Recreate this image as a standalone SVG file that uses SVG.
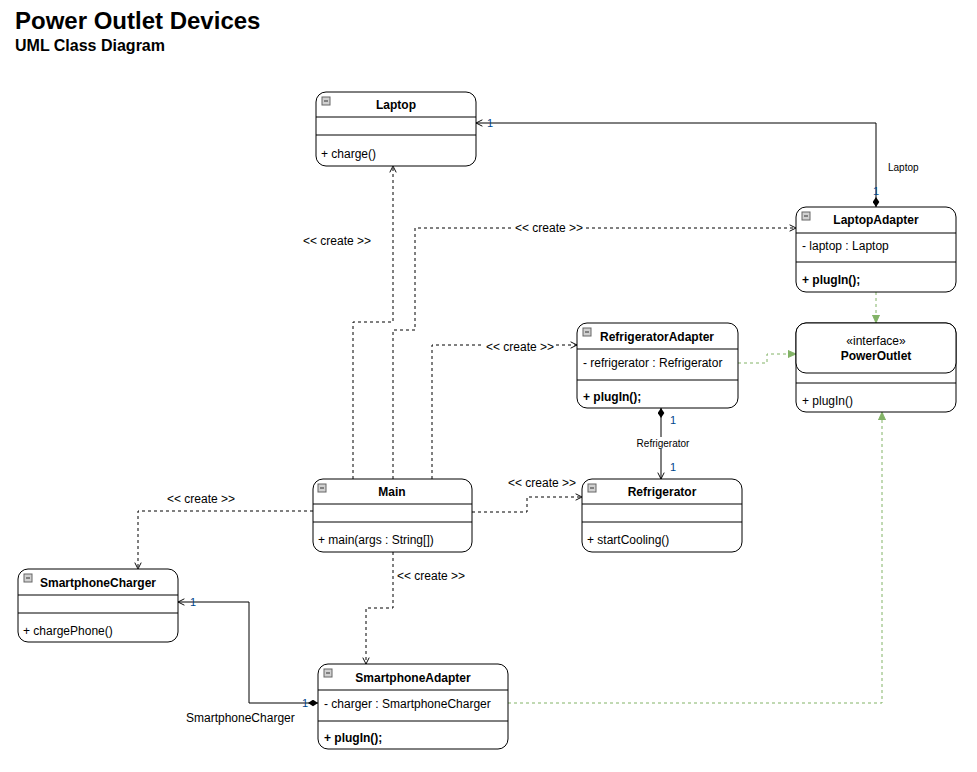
<svg xmlns="http://www.w3.org/2000/svg" width="977" height="772" viewBox="0 0 977 772">
<style>
text{font-family:"Liberation Sans",Arial,sans-serif;fill:#000}
.box{fill:#fff;stroke:#000;stroke-width:1}
.ln{stroke:#000;stroke-width:1}
.nm{font-size:12px;font-weight:bold;text-anchor:middle}
.at{font-size:12px}
.bd{font-size:12px;font-weight:bold}
.lb{font-size:12px}
.sm{font-size:10px}
.mu{font-size:11px;fill:#00468c}
.ic{fill:#d0d0d0;stroke:#666;stroke-width:1}
.dash{fill:none;stroke:#000;stroke-width:1;stroke-dasharray:3 3}
.gr{fill:none;stroke:#82b366;stroke-width:1;stroke-dasharray:3 3}
.sol{fill:none;stroke:#000;stroke-width:1}
</style>
<defs>
<marker id="open" viewBox="0 0 10 10" refX="9" refY="5" markerWidth="8" markerHeight="8" markerUnits="userSpaceOnUse" orient="auto">
<path d="M1,1 L9,5 L1,9" fill="none" stroke="#000" stroke-width="1.2"/>
</marker>
<marker id="dia" viewBox="0 0 12 8" refX="0" refY="4" markerWidth="10" markerHeight="7" markerUnits="userSpaceOnUse" orient="auto">
<path d="M0,4 L6,0 L12,4 L6,8 Z" fill="#000"/>
</marker>
<marker id="tri" viewBox="0 0 10 10" refX="9" refY="5" markerWidth="9" markerHeight="9" markerUnits="userSpaceOnUse" orient="auto">
<path d="M0,1 L9,5 L0,9 Z" fill="#82b366" stroke="#82b366"/>
</marker>
<g id="icon"><rect class="ic" x="0" y="0" width="8" height="8"/><line x1="2" y1="4" x2="6" y2="4" stroke="#333"/></g>
</defs>
<rect width="977" height="772" fill="#fff"/>
<text x="15" y="29" style="font-size:24px;font-weight:bold">Power Outlet Devices</text>
<text x="15" y="51" style="font-size:16px;font-weight:bold">UML Class Diagram</text>

<g id="connectors">
<!-- LaptopAdapter -> Laptop composition -->
<path class="sol" d="M876,207 L876,123 L476,123" marker-start="url(#dia)" marker-end="url(#open)"/>
<text class="mu" x="487" y="127">1</text>
<text class="mu" x="873" y="195">1</text>
<text class="sm" x="888" y="171">Laptop</text>
<!-- Main -> Laptop -->
<path class="dash" d="M353,479 L353,322 L393,322 L393,166" marker-end="url(#open)"/>
<text class="lb" x="303" y="245">&lt;&lt; create &gt;&gt;</text>
<!-- Main -> LaptopAdapter -->
<path class="dash" d="M393,479 L393,330 L415,330 L415,228 L796,228" marker-end="url(#open)"/>
<rect x="513" y="221" width="72" height="13" fill="#fff"/>
<text class="lb" x="515" y="232">&lt;&lt; create &gt;&gt;</text>
<!-- Main -> RefrigeratorAdapter -->
<path class="dash" d="M432,479 L432,345 L577,345" marker-end="url(#open)"/>
<rect x="484" y="340" width="72" height="13" fill="#fff"/>
<text class="lb" x="486" y="351">&lt;&lt; create &gt;&gt;</text>
<!-- Main -> Refrigerator -->
<path class="dash" d="M472,512 L527,512 L527,497 L582,497" marker-end="url(#open)"/>
<text class="lb" x="508" y="487">&lt;&lt; create &gt;&gt;</text>
<!-- Main -> SmartphoneCharger -->
<path class="dash" d="M313,511 L138,511 L138,569" marker-end="url(#open)"/>
<text class="lb" x="167" y="503">&lt;&lt; create &gt;&gt;</text>
<!-- Main -> SmartphoneAdapter -->
<path class="dash" d="M393,552 L393,608 L366,608 L366,664" marker-end="url(#open)"/>
<text class="lb" x="397" y="580">&lt;&lt; create &gt;&gt;</text>
<!-- SmartphoneAdapter -> SmartphoneCharger -->
<path class="sol" d="M318,703 L249,703 L249,602 L178,602" marker-start="url(#dia)" marker-end="url(#open)"/>
<text class="mu" x="190" y="606">1</text>
<text class="mu" x="302" y="707">1</text>
<text class="lb" x="186" y="722">SmartphoneCharger</text>
<!-- RefrigeratorAdapter -> Refrigerator -->
<path class="sol" d="M661,408 L661,479" marker-start="url(#dia)" marker-end="url(#open)"/>
<text class="mu" x="670" y="424">1</text>
<text class="mu" x="670" y="471">1</text>
<rect x="636" y="437" width="54" height="12" fill="#fff"/>
<text class="sm" x="663" y="447" text-anchor="middle">Refrigerator</text>
<!-- realizations -->
<path class="gr" d="M876,292 L876,323" marker-end="url(#tri)"/>
<path class="gr" d="M738,363 L767,363 L767,354 L796,354" marker-end="url(#tri)"/>
<path class="gr" d="M508,703 L882,703 L882,412" marker-end="url(#tri)"/>
</g>

<g id="Laptop">
<rect class="box" x="316" y="92" width="160" height="74" rx="10"/>
<line class="ln" x1="316" y1="117" x2="476" y2="117"/>
<line class="ln" x1="316" y1="135" x2="476" y2="135"/>
<use href="#icon" x="322" y="97"/>
<text class="nm" x="396" y="109">Laptop</text>
<text class="at" x="321" y="158">+ charge()</text>
</g>

<g id="LaptopAdapter">
<rect class="box" x="796" y="207" width="160" height="85" rx="10"/>
<line class="ln" x1="796" y1="233" x2="956" y2="233"/>
<line class="ln" x1="796" y1="262" x2="956" y2="262"/>
<use href="#icon" x="802" y="212"/>
<text class="nm" x="876" y="224">LaptopAdapter</text>
<text class="at" x="802" y="250">- laptop : Laptop</text>
<text class="bd" x="802" y="284">+ plugIn();</text>
</g>

<g id="PowerOutlet">
<rect class="box" x="796" y="323" width="160" height="89" rx="10"/>
<rect class="box" x="796" y="323" width="160" height="50" rx="10"/>
<line class="ln" x1="796" y1="383" x2="956" y2="383"/>
<text class="at" x="876" y="345" text-anchor="middle">«interface»</text>
<text class="nm" x="876" y="360">PowerOutlet</text>
<text class="at" x="802" y="405">+ plugIn()</text>
</g>

<g id="RefrigeratorAdapter">
<rect class="box" x="577" y="323" width="161" height="85" rx="10"/>
<line class="ln" x1="577" y1="349" x2="738" y2="349"/>
<line class="ln" x1="577" y1="380" x2="738" y2="380"/>
<use href="#icon" x="583" y="328"/>
<text class="nm" x="657" y="341">RefrigeratorAdapter</text>
<text class="at" x="583" y="367">- refrigerator : Refrigerator</text>
<text class="bd" x="583" y="401">+ plugIn();</text>
</g>

<g id="Refrigerator">
<rect class="box" x="582" y="479" width="160" height="73" rx="10"/>
<line class="ln" x1="582" y1="504" x2="742" y2="504"/>
<line class="ln" x1="582" y1="522" x2="742" y2="522"/>
<use href="#icon" x="588" y="484"/>
<text class="nm" x="662" y="496">Refrigerator</text>
<text class="at" x="587" y="544">+ startCooling()</text>
</g>

<g id="Main">
<rect class="box" x="313" y="479" width="159" height="73" rx="10"/>
<line class="ln" x1="313" y1="504" x2="472" y2="504"/>
<line class="ln" x1="313" y1="522" x2="472" y2="522"/>
<use href="#icon" x="318" y="484"/>
<text class="nm" x="392" y="496">Main</text>
<text class="at" x="318" y="544">+ main(args : String[])</text>
</g>

<g id="SmartphoneCharger">
<rect class="box" x="18" y="569" width="160" height="73" rx="10"/>
<line class="ln" x1="18" y1="595" x2="178" y2="595"/>
<line class="ln" x1="18" y1="613" x2="178" y2="613"/>
<use href="#icon" x="24" y="574"/>
<text class="nm" x="98" y="587">SmartphoneCharger</text>
<text class="at" x="23" y="635">+ chargePhone()</text>
</g>

<g id="SmartphoneAdapter">
<rect class="box" x="318" y="664" width="190" height="85" rx="10"/>
<line class="ln" x1="318" y1="690" x2="508" y2="690"/>
<line class="ln" x1="318" y1="721" x2="508" y2="721"/>
<use href="#icon" x="324" y="669"/>
<text class="nm" x="413" y="682">SmartphoneAdapter</text>
<text class="at" x="324" y="708">- charger : SmartphoneCharger</text>
<text class="bd" x="324" y="742">+ plugIn();</text>
</g>
</svg>
